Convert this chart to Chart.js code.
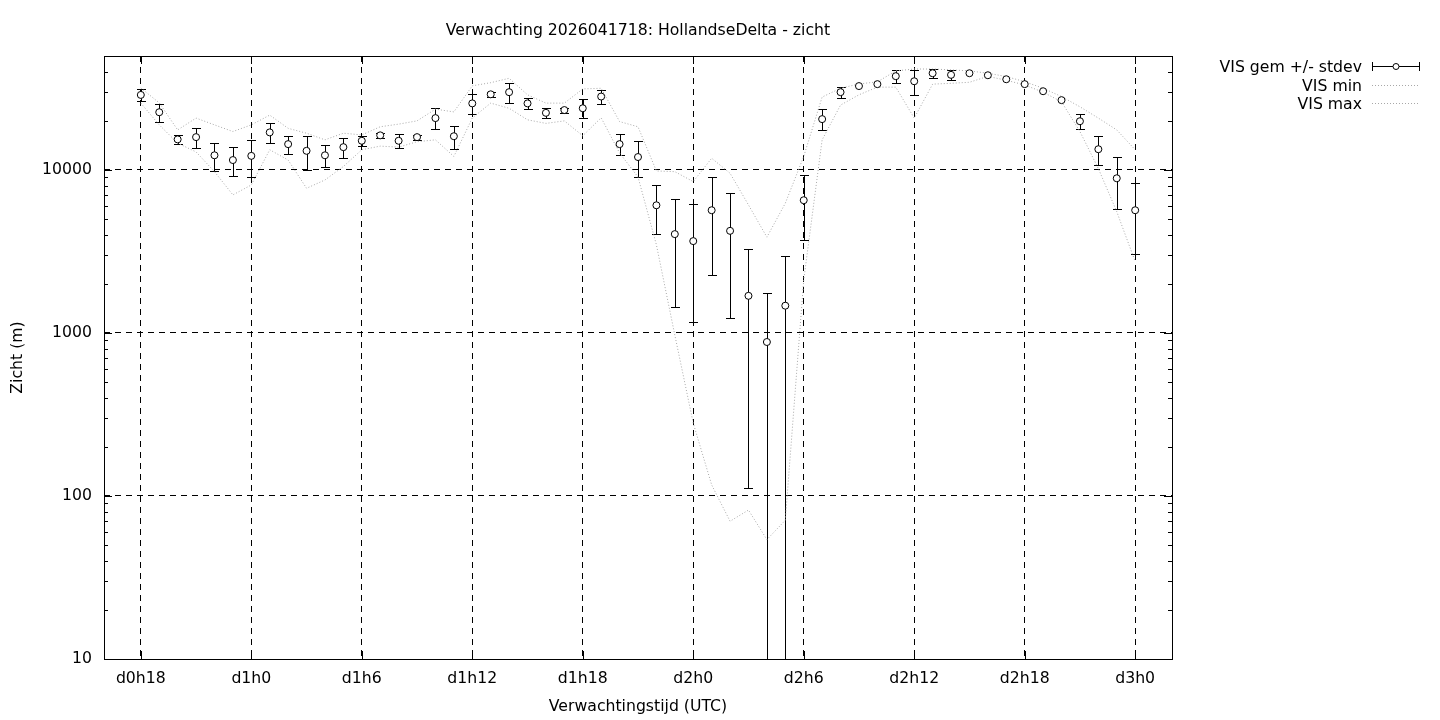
<!DOCTYPE html>
<html>
<head>
<meta charset="utf-8">
<title>Verwachting zicht</title>
<script src="https://cdn.jsdelivr.net/npm/chart.js@4.4.0/dist/chart.umd.min.js"></script>
<style>
  html, body { margin: 0; padding: 0; background: #fff; }
  #wrap { width: 1440px; height: 720px; }
</style>
</head>
<body>
<div id="wrap"><canvas id="visChart" width="1440" height="720"></canvas></div>
<script>
// forecast hour (hours after d0h0)
var hours = [18, 19, 20, 21, 22, 23, 24, 25, 26, 27, 28, 29, 30, 31, 32, 33, 34, 35, 36,
             37, 38, 39, 40, 41, 42, 43, 44, 45, 46, 47, 48, 49, 50, 51, 52, 53, 54,
             55, 56, 57, 58, 59, 60, 61, 62, 63, 64, 65, 66, 67, 68, 69, 70, 71, 72];

// VIS gem (m)
var visMean = [28850, 22600, 15400, 15900, 12300, 11500, 12200, 17000, 14400, 13100, 12300, 13800, 15100, 16300, 15100, 15900, 20800, 16100, 25600,
               29100, 30000, 25600, 22400, 23300, 23900, 28200, 14400, 12000, 6070, 4040, 3660, 5660, 4230, 1690, 880, 1470, 6520,
               20500, 30000, 32700, 33600, 37600, 35000, 39200, 38300, 39200, 38100, 36000, 33600, 30400, 26800, 19900, 13400, 8890, 5660];

// stdev (m)
var visStd = [2450, 2900, 1000, 2300, 2400, 2300, 3100, 2450, 1800, 3050, 1850, 2000, 1150, 650, 1500, 550, 3050, 2600, 3500,
              950, 4200, 1900, 1500, 850, 3200, 2700, 2130, 3000, 2000, 2600, 2500, 3400, 3000, 1578, 875, 1495, 2800,
              3000, 2250, 0, 0, 3300, 6100, 2300, 2500, 0, 0, 0, 0, 0, 0, 2050, 2700, 3150, 2600];

// VIS min (m)
var visMin = [25700, 18900, 14600, 12900, 9760, 7030, 8090, 13300, 11500, 7720, 8680, 10500, 13300, 14000, 13800, 14900, 15300, 12100, 20800,
              25700, 23900, 20300, 19300, 20000, 16200, 20900, 12700, 9060, 3470, 970, 280, 117, 70, 82, 54, 71, 2110,
              15300, 25000, 28900, 32200, 32200, 20800, 33600, 34000, 34500, 37500, 35500, 33200, 30000, 26200, 17200, 10200, 5550, 2740];

// VIS max (m)
var visMax = [31800, 25800, 17600, 20800, 18900, 17200, 18900, 21700, 18000, 16800, 15300, 16800, 16400, 18400, 19100, 20000, 23600, 22700, 32800,
              34300, 36500, 28900, 25700, 25700, 31400, 31700, 19800, 18400, 9860, 9760, 8480, 11800, 9540, 6100, 3870, 6250, 12100,
              28000, 31700, 33700, 34700, 40500, 41600, 41600, 41100, 40500, 39200, 37400, 34800, 31700, 28200, 24400, 20800, 17600, 13300];

var tickHours = [18, 24, 30, 36, 42, 48, 54, 60, 66, 72];
var tickLabels = ['d0h18', 'd1h0', 'd1h6', 'd1h12', 'd1h18', 'd2h0', 'd2h6', 'd2h12', 'd2h18', 'd3h0'];
var yTicks = [10, 100, 1000, 10000];

var titleText = 'Verwachting 2026041718: HollandseDelta - zicht';
var xTitle = 'Verwachtingstijd (UTC)';
var yTitle = 'Zicht (m)';
var legendNames = ['VIS gem +/- stdev', 'VIS min', 'VIS max'];

var FONT = "15.7px 'DejaVu Sans', sans-serif";
var DOT = '#a8a8a8';

function pts(arr) {
  return hours.map(function (h, i) { return { x: h, y: arr[i] }; });
}

var gnuplotLook = {
  id: 'gnuplotLook',
  beforeDatasetsDraw: function (chart) {
    // error bars, mean +/- stdev
    var ctx = chart.ctx, xs = chart.scales.x, ys = chart.scales.y, a = chart.chartArea;
    ctx.save();
    ctx.beginPath();
    ctx.rect(a.left, a.top, a.right - a.left, a.bottom - a.top);
    ctx.clip();
    ctx.strokeStyle = '#000';
    ctx.lineWidth = 1;
    for (var i = 0; i < hours.length; i++) {
      if (!visStd[i]) continue;
      var px = Math.round(xs.getPixelForValue(hours[i])) + 0.5;
      var hi = visMean[i] + visStd[i];
      var lo = visMean[i] - visStd[i];
      var yHi = Math.round(ys.getPixelForValue(hi)) + 0.5;
      var yLo = lo > 0 ? Math.round(ys.getPixelForValue(lo)) + 0.5 : a.bottom + 10;
      ctx.beginPath();
      ctx.moveTo(px, yHi); ctx.lineTo(px, yLo);
      ctx.moveTo(px - 4.5, yHi); ctx.lineTo(px + 4.5, yHi);
      ctx.moveTo(px - 4.5, yLo); ctx.lineTo(px + 4.5, yLo);
      ctx.stroke();
    }
    ctx.restore();
  },
  afterDraw: function (chart) {
    var ctx = chart.ctx, a = chart.chartArea, ys = chart.scales.y, xs = chart.scales.x;
    ctx.save();
    ctx.strokeStyle = '#000';
    ctx.lineWidth = 1;
    // frame
    ctx.strokeRect(Math.round(a.left) + 0.5, Math.round(a.top) + 0.5,
                   Math.round(a.right - a.left), Math.round(a.bottom - a.top));
    // y ticks, major + minor, both sides
    ctx.beginPath();
    yTicks.forEach(function (d) {
      for (var m = 1; m <= 9; m++) {
        var v = d * m;
        if (v > ys.max) break;
        var py = Math.round(ys.getPixelForValue(v)) + 0.5;
        var len = m === 1 ? 8 : 4;
        ctx.moveTo(a.left, py); ctx.lineTo(a.left + len, py);
        ctx.moveTo(a.right, py); ctx.lineTo(a.right - len, py);
      }
    });
    // x ticks
    tickHours.forEach(function (h) {
      var px = Math.round(xs.getPixelForValue(h)) + 0.5;
      ctx.moveTo(px, a.bottom); ctx.lineTo(px, a.bottom - 8);
      ctx.moveTo(px, a.top); ctx.lineTo(px, a.top + 8);
    });
    ctx.stroke();

    // texts
    ctx.fillStyle = '#000';
    ctx.font = FONT;
    ctx.textBaseline = 'middle';
    ctx.textAlign = 'center';
    ctx.fillText(titleText, (a.left + a.right) / 2, 31);
    ctx.fillText(xTitle, (a.left + a.right) / 2, 707);
    ctx.save();
    ctx.translate(18, (a.top + a.bottom) / 2);
    ctx.rotate(-Math.PI / 2);
    ctx.fillText(yTitle, 0, 0);
    ctx.restore();

    // legend
    var rows = [66, 85, 103];
    ctx.textAlign = 'right';
    legendNames.forEach(function (n, i) { ctx.fillText(n, 1362, rows[i] + 2); });
    var y0 = rows[0] + 0.5;
    ctx.beginPath();
    ctx.moveTo(1372, y0); ctx.lineTo(1420, y0);
    ctx.moveTo(1372.5, y0 - 4.5); ctx.lineTo(1372.5, y0 + 4.5);
    ctx.moveTo(1419.5, y0 - 4.5); ctx.lineTo(1419.5, y0 + 4.5);
    ctx.stroke();
    ctx.beginPath();
    ctx.arc(1396, y0, 3, 0, Math.PI * 2);
    ctx.fillStyle = '#fff';
    ctx.fill();
    ctx.stroke();
    ctx.strokeStyle = DOT;
    ctx.setLineDash([1, 2]);
    [rows[1], rows[2]].forEach(function (ry) {
      ctx.beginPath();
      ctx.moveTo(1372, ry + 0.5); ctx.lineTo(1420, ry + 0.5);
      ctx.stroke();
    });
    ctx.restore();
  }
};

Chart.defaults.font.family = "'DejaVu Sans', sans-serif";
Chart.defaults.font.size = 15.7;
Chart.defaults.color = '#000';

// no dashed grid on the bottom border (value 10)
function gridColor(c) {
  return c.tick && c.tick.value === 10 ? 'rgba(0,0,0,0)' : '#000';
}

var chart = new Chart(document.getElementById('visChart'), {
  type: 'line',
  data: {
    datasets: [
      {
        label: legendNames[0],
        data: pts(visMean),
        showLine: false,
        pointStyle: 'circle',
        pointRadius: 3.5,
        pointBackgroundColor: '#fff',
        pointBorderColor: '#000',
        pointBorderWidth: 1
      },
      {
        label: legendNames[1],
        data: pts(visMin),
        borderColor: DOT,
        borderWidth: 1,
        borderDash: [1, 2],
        pointRadius: 0,
        fill: false,
        tension: 0
      },
      {
        label: legendNames[2],
        data: pts(visMax),
        borderColor: DOT,
        borderWidth: 1,
        borderDash: [1, 2],
        pointRadius: 0,
        fill: false,
        tension: 0
      }
    ]
  },
  options: {
    responsive: false,
    animation: false,
    devicePixelRatio: 1,
    layout: { padding: { left: 0, right: 268, top: 56, bottom: 0 } },
    plugins: {
      legend: { display: false },
      title: { display: false },
      tooltip: { enabled: false }
    },
    scales: {
      x: {
        type: 'linear',
        min: 16,
        max: 74,
        afterBuildTicks: function (scale) {
          scale.ticks = tickHours.map(function (h) { return { value: h }; });
        },
        afterFit: function (scale) { scale.height = 61; },
        ticks: {
          autoSkip: false,
          maxRotation: 0,
          padding: 11,
          callback: function (v) {
            var i = tickHours.indexOf(v);
            return i >= 0 ? tickLabels[i] : '';
          }
        },
        grid: { color: '#000', lineWidth: 1, drawTicks: false },
        border: { display: false, dash: [6, 5] }
      },
      y: {
        type: 'logarithmic',
        min: 10,
        max: 50000,
        afterBuildTicks: function (scale) {
          scale.ticks = yTicks.map(function (v) { return { value: v }; });
        },
        afterFit: function (scale) { scale.width = 104; },
        ticks: {
          autoSkip: false,
          padding: 12,
          callback: function (v) { return String(v); }
        },
        grid: { color: gridColor, lineWidth: 1, drawTicks: false },
        border: { display: false, dash: [6, 5] }
      }
    }
  },
  plugins: [gnuplotLook]
});
</script>
</body>
</html>
